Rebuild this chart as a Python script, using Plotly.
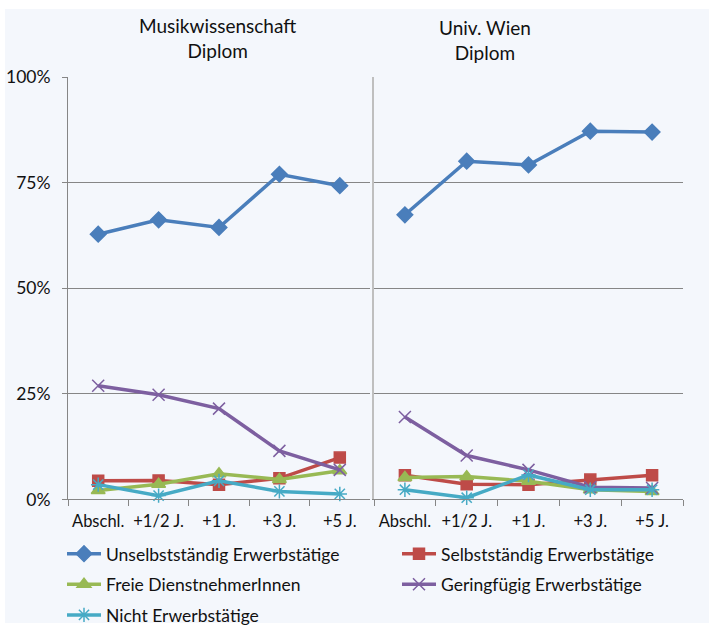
import plotly.graph_objects as go

categories = ["Abschl.", "+1/2 J.", "+1 J.", "+3 J.", "+5 J."]
series_names = ["Unselbstständig Erwerbstätige", "Selbstständig Erwerbstätige",
                "Freie DienstnehmerInnen", "Geringfügig Erwerbstätige", "Nicht Erwerbstätige"]

# Musikwissenschaft Diplom (%)
musik_unselbst = [62.8, 66.2, 64.4, 77.0, 74.3]
musik_selbst = [4.4, 4.5, 3.5, 5.0, 9.9]
musik_freie = [2.1, 3.6, 6.1, 4.7, 6.8]
musik_gering = [26.9, 24.8, 21.5, 11.5, 7.0]
musik_nicht = [3.5, 0.9, 4.4, 1.9, 1.3]

# Univ. Wien Diplom (%)
wien_unselbst = [67.4, 80.1, 79.2, 87.2, 87.0]
wien_selbst = [5.7, 3.6, 3.5, 4.7, 5.7]
wien_freie = [5.2, 5.4, 4.3, 2.3, 1.9]
wien_gering = [19.5, 10.4, 7.0, 2.9, 2.7]
wien_nicht = [2.3, 0.4, 5.8, 2.3, 2.3]

y_ticks = [0, 25, 50, 75, 100]
y_tick_labels = ["0%", "25%", "50%", "75%", "100%"]

colors = ["#4A7EBB", "#BE4B48", "#98B954", "#7D5FA0", "#46AAC5"]
symbols = ["diamond", "square", "triangle-up", "x-thin-open", "asterisk-open"]
sizes = [12, 11, 12, 12, 12]

W, H = 709, 633
FONT = "Lato, 'Liberation Sans', sans-serif"
TXT = "#111111"

# legend slot positions in pixels (left of entry, vertical centre)
legend_slots = [(62, 560), (397, 560), (62, 591), (397, 591), (62, 622)]
legend_ids = ["legend", "legend2", "legend3", "legend4", "legend5"]

fig = go.Figure()

musik = [musik_unselbst, musik_selbst, musik_freie, musik_gering, musik_nicht]
wien = [wien_unselbst, wien_selbst, wien_freie, wien_gering, wien_nicht]

for i, name in enumerate(series_names):
    for data, xa, ya, show in [(musik, "x", "y", True), (wien, "x2", "y2", False)]:
        fig.add_trace(go.Scatter(
            x=categories, y=data[i], name=name, mode="lines+markers",
            xaxis=xa, yaxis=ya, showlegend=show, legend=legend_ids[i],
            line=dict(color=colors[i], width=3.5),
            marker=dict(symbol=symbols[i], size=sizes[i], color=colors[i],
                        line=dict(color=colors[i], width=1.5)),
            cliponaxis=False,
        ))


def px_x(p):
    return p / W


def px_y(p):
    return max(0.0, min(1.0, 1 - p / H))


y_dom = [px_y(505), px_y(78)]

xaxis_common = dict(type="category", showline=True, linecolor="#868686", linewidth=1,
                    ticks="outside", tickson="boundaries", ticklen=6, tickcolor="#868686",
                    showgrid=False, tickfont=dict(size=16.5), range=[-0.5, 4.5],
                    tickangle=0, ticklabelstandoff=7, automargin=False)

fig.update_layout(
    width=W, height=H,
    margin=dict(l=0, r=0, t=0, b=0),
    paper_bgcolor="white",
    plot_bgcolor="white",
    font=dict(family=FONT, size=17.5, color=TXT),
    xaxis=dict(domain=[px_x(68), px_x(370)], **xaxis_common),
    yaxis=dict(domain=y_dom, range=[0, 100], tickvals=y_ticks, ticktext=y_tick_labels,
               showline=True, linecolor="#868686", linewidth=1,
               ticks="outside", ticklen=5, tickcolor="#868686",
               showgrid=True, gridcolor="#868686", gridwidth=1,
               zeroline=False, tickfont=dict(size=17.5), ticklabelstandoff=8,
               automargin=False),
    xaxis2=dict(domain=[px_x(374), px_x(683)], **xaxis_common),
    yaxis2=dict(domain=y_dom, range=[0, 100], tickvals=y_ticks, showticklabels=False,
                showline=True, linecolor="#BFBFBF", linewidth=2,
                ticks="", showgrid=True, gridcolor="#868686", gridwidth=1,
                zeroline=False, anchor="x2", automargin=False),
    showlegend=True,
)

for lid, (lx, ly) in zip(legend_ids, legend_slots):
    fig.update_layout({lid: dict(
        orientation="h", font=dict(size=17.5, family=FONT, color=TXT),
        bgcolor="rgba(0,0,0,0)", itemwidth=34,
        xanchor="left", yanchor="middle", x=px_x(lx), y=px_y(ly),
    )})

# background panel
fig.add_shape(type="rect", xref="paper", yref="paper",
              x0=px_x(5), x1=1, y0=px_y(630), y1=px_y(9),
              fillcolor="#F4F7FC", line=dict(width=0), layer="below")

# subplot titles
fig.add_annotation(text="Musikwissenschaft<br>Diplom", xref="paper", yref="paper",
                   x=px_x(217), y=px_y(38), xanchor="center", yanchor="middle",
                   showarrow=False, font=dict(size=19, family=FONT, color=TXT))
fig.add_annotation(text="Univ. Wien<br>Diplom", xref="paper", yref="paper",
                   x=px_x(485), y=px_y(40), xanchor="center", yanchor="middle",
                   showarrow=False, font=dict(size=19, family=FONT, color=TXT))

fig.write_html("out.html", config={"displayModeBar": False},
               post_script="document.body.style.margin='0px';document.body.style.padding='0px';")
